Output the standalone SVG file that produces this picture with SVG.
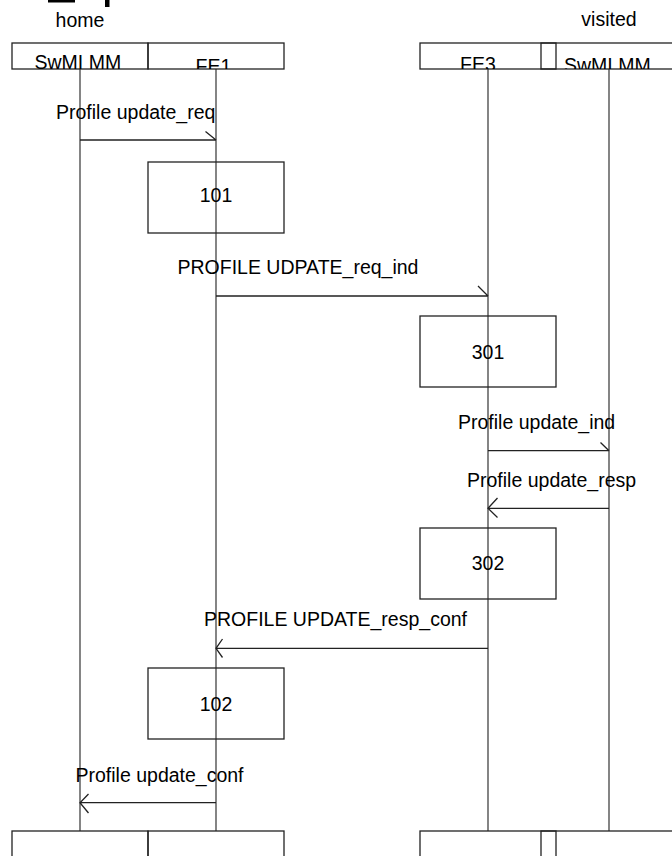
<svg xmlns="http://www.w3.org/2000/svg" width="672" height="856" viewBox="0 0 672 856">
<style>
text{font-family:"Liberation Sans",Arial,sans-serif;font-size:19.5px;fill:#000}
.box{fill:none;stroke:#222;stroke-width:1.3}
.life{stroke:#666;stroke-width:1.6;fill:none}
.msg{stroke:#222;stroke-width:1.3;fill:none}
</style>
<defs>
<clipPath id="topclip"><rect x="0" y="43" width="672" height="26"/></clipPath>
</defs>
<rect x="48" y="0" width="27" height="2.5" fill="#000"/>
<rect x="105" y="0" width="4.5" height="7" fill="#000"/>
<text x="80" y="26.5" text-anchor="middle">home</text>
<text x="609" y="26" text-anchor="middle">visited</text>
<g id="lifelines">
<line class="life" x1="80" y1="69" x2="80" y2="831"/>
<line class="life" x1="216" y1="69" x2="216" y2="831"/>
<line class="life" x1="488" y1="69" x2="488" y2="831"/>
<line class="life" x1="609" y1="69" x2="609" y2="831"/>
</g>
<g id="swmi-home">
<rect class="box" x="12" y="43" width="136" height="26"/>
<text x="34.5" y="69" clip-path="url(#topclip)">SwMI MM</text>
<rect class="box" x="12" y="831" width="136" height="40"/>
</g>
<g id="fe1">
<rect class="box" x="148" y="43" width="136" height="26"/>
<text x="195.5" y="73.3" clip-path="url(#topclip)">FE1</text>
<rect class="box" x="148" y="831" width="136" height="40"/>
</g>
<g id="fe3">
<rect class="box" x="420" y="43" width="136" height="26"/>
<text x="460" y="70.7" clip-path="url(#topclip)">FE3</text>
<rect class="box" x="420" y="831" width="136" height="40"/>
</g>
<g id="swmi-visited">
<rect class="box" x="541" y="43" width="136" height="26"/>
<text x="564" y="72" clip-path="url(#topclip)">SwMI MM</text>
<rect class="box" x="541" y="831" width="136" height="40"/>
</g>
<g id="b101">
<rect class="box" x="148" y="162" width="136" height="71"/>
<text x="216" y="202" text-anchor="middle">101</text>
</g>
<g id="b301">
<rect class="box" x="420" y="316" width="136" height="71"/>
<text x="488" y="359" text-anchor="middle">301</text>
</g>
<g id="b302">
<rect class="box" x="420" y="528" width="136" height="71"/>
<text x="488" y="570" text-anchor="middle">302</text>
</g>
<g id="b102">
<rect class="box" x="148" y="668" width="136" height="71"/>
<text x="216" y="710.5" text-anchor="middle">102</text>
</g>
<g id="connectors">
<path class="msg" d="M80 140H216M205.5 131.5L216 140"/>
<text x="56" y="119">Profile update_req</text>
<path class="msg" d="M216 296H488M478 286L488 296"/>
<text x="177.5" y="273.5">PROFILE UDPATE_req_ind</text>
<path class="msg" d="M488 450.7H609M600.5 442.5L609 450.7"/>
<text x="458" y="429">Profile update_ind</text>
<path class="msg" d="M609 508.3H488M497.5 498L488 508.3L497.5 517.5"/>
<text x="467" y="487">Profile update_resp</text>
<path class="msg" d="M488 648.3H216M222.5 639L216 648.3L222.5 657.5"/>
<text x="204" y="626">PROFILE UPDATE_resp_conf</text>
<path class="msg" d="M216 802.7H80M88.5 794L80 802.7L88.5 813"/>
<text x="75.5" y="782">Profile update_conf</text>
</g>
</svg>
